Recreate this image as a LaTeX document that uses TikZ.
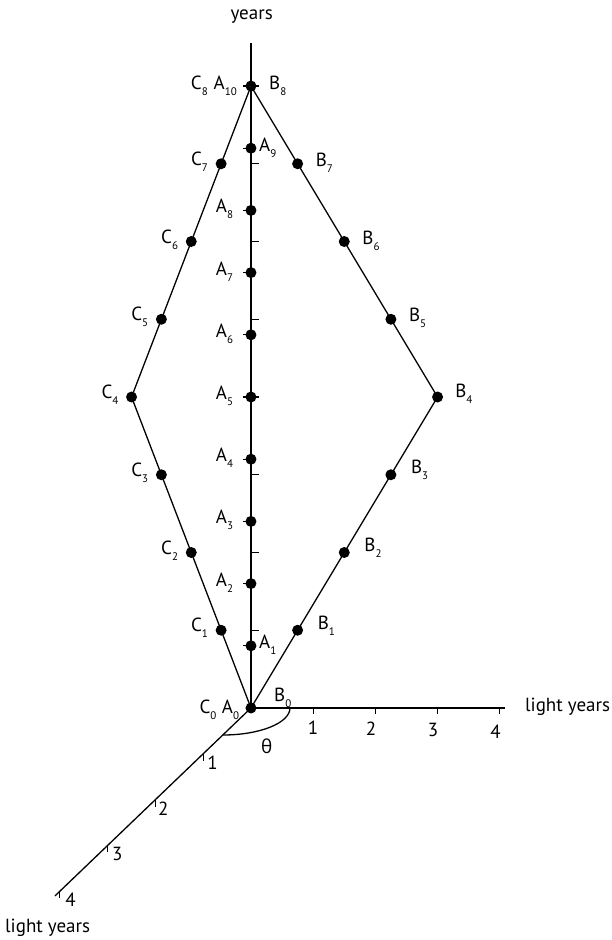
\documentclass[tikz,border=0pt]{standalone}
\usepackage{fontspec}
\setmainfont{PT Sans}
\newfontfamily\grkfont{Open Sans}
\usetikzlibrary{backgrounds}
\newcommand\lsub[1]{\raisebox{-6bp}{\fontsize{11bp}{12bp}\selectfont #1}}
\begin{document}
\begin{tikzpicture}[x=62.2bp,y=62.2bp,
  dot/.style={circle,fill=black,inner sep=0pt,minimum size=11bp},
  lab/.style={font=\fontsize{19bp}{22bp}\selectfont,inner sep=0pt},
  ln/.style={line width=1.3bp,black},
  tk/.style={line width=1.1bp,black}]
\useasboundingbox (-4.035,-3.730) rectangle (5.804,11.383);
% axis end points
\coordinate (ytop) at (0,10.69);
\coordinate (xend) at (4.09,0);
\coordinate (zend) at (-3.15,-3.02);
% events
\foreach \k in {0,...,10} \node[dot] (A\k) at (0,\k) {};
\foreach \k/\m in {1/1,2/2,3/3,4/4,5/3,6/2,7/1} {
  \node[dot] (B\k) at ({0.75*\m},{1.25*\k}) {};
  \node[dot] (C\k) at ({-0.48*\m},{1.25*\k}) {};
}
\coordinate (B0) at (A0); \coordinate (C0) at (A0);
\coordinate (B8) at (A10); \coordinate (C8) at (A10);
\begin{scope}[on background layer]
  \draw[ln] (A0.center) -- (ytop);
  \draw[ln] (A0.center) -- (xend);
  \draw[ln] (A0.center) -- (zend);
  \draw[ln] (B0) -- (B4.center) -- (B8);
  \draw[ln] (C0) -- (C4.center) -- (C8);
  \foreach \k in {1,...,8} \draw[tk] (0,{1.25*\k}) -- ++(8bp,0);
  \foreach \k in {1,...,10} \draw[tk] (0,\k) -- ++(-8bp,0);
  \foreach \k in {1,...,4} \draw[tk] (\k,0) -- ++(0,-6bp);
  \foreach \k in {1,...,4} \draw[tk] ({-0.768*\k},{-0.736*\k}) -- ++(0,-7bp);
  \draw[ln] (A0.center) ++(39bp,0) arc[start angle=0,end angle=-90,x radius=67bp,y radius=27bp];
\end{scope}
% axis labels
\node[lab] (ylab) at (0.011,11.114) {years};
\node[lab,anchor=base west] (xlab) at (4.405,-0.064) {light years};
\node[lab,anchor=base west] (zlab) at (-3.955,-3.617) {light years};
\node[lab] (th) at (0.252,-0.622) {\grkfont θ};
% tick numbers
\node[lab] (x1) at (0.997,-0.322) {1};
\node[lab] (x2) at (1.929,-0.338) {2};
\node[lab] (x3) at (2.926,-0.354) {3};
\node[lab] (x4) at (3.934,-0.386) {4};
\node[lab] (z1) at (-0.619,-0.884) {1};
\node[lab] (z2) at (-1.41,-1.613) {2};
\node[lab] (z3) at (-2.151,-2.347) {3};
\node[lab] (z4) at (-2.899,-3.087) {4};
% event labels
\node[lab,anchor=base east,xshift=-11.7bp,yshift=-5bp] at (A0) {A\lsub{0}};
\node[lab,anchor=base east,xshift=-34.3bp,yshift=-5bp] at (A0) {C\lsub{0}};
\node[lab,anchor=base west,xshift=23bp,yshift=6.3bp] at (A0) {B\lsub{0}};
\node[lab,anchor=base west,xshift=8bp,yshift=-3bp] at (A1) {A\lsub{1}};
\node[lab,anchor=base west,xshift=8bp,yshift=-3bp] at (A9) {A\lsub{9}};
\foreach \k in {2,...,8}
  \node[lab,anchor=base east,xshift=-17.7bp,yshift=-2.5bp] at (A\k) {A\lsub{\k}};
\node[lab,anchor=base east,xshift=-14bp,yshift=-3.3bp] at (A10) {A\lsub{10}};
\node[lab,anchor=base east,xshift=-43bp,yshift=-3.3bp] at (A10) {C\lsub{8}};
\node[lab,anchor=base west,xshift=18bp,yshift=-3.3bp] at (A10) {B\lsub{8}};
\foreach \k in {1,...,7}
  \node[lab,anchor=base east,xshift=-13bp,yshift=-1.5bp] at (C\k) {C\lsub{\k}};
\foreach \k in {1,2,3}
  \node[lab,anchor=base west,xshift=20bp,yshift=1bp] at (B\k) {B\lsub{\k}};
\node[lab,anchor=base west,xshift=17.5bp,yshift=0bp] at (B4) {B\lsub{4}};
\foreach \k in {5,6,7}
  \node[lab,anchor=base west,xshift=18bp,yshift=-2.5bp] at (B\k) {B\lsub{\k}};
\end{tikzpicture}
\end{document}
